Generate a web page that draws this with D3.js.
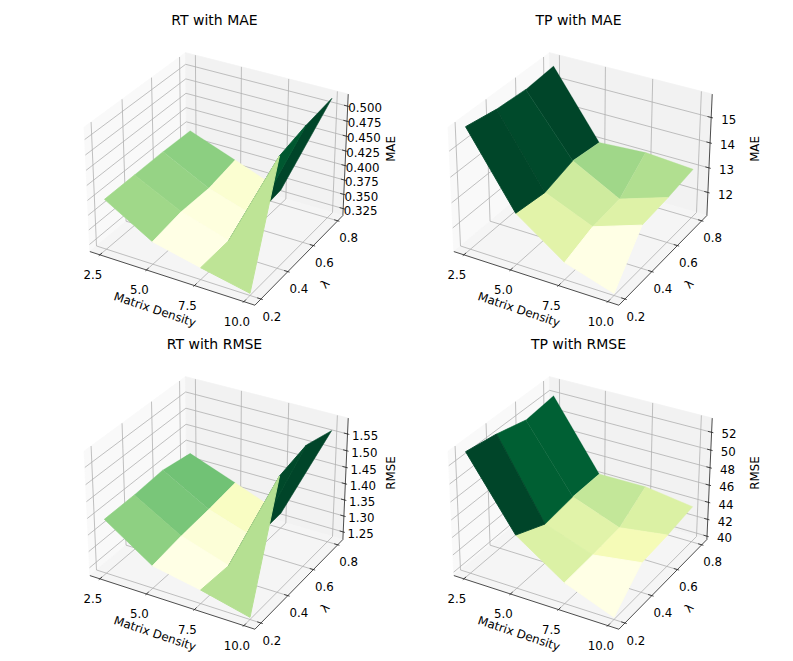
<!DOCTYPE html>
<html lang="en-us">
  <head>
      <meta charset="UTF-8">
      <title>RT and TP surfaces</title>
      <script src="https://d3js.org/d3.v7.min.js"></script>
      <style>
        html, body { margin: 0; padding: 0; background: #fff; }
        text { font-family: "DejaVu Sans", sans-serif; fill: #000; }
      </style>
  </head>
  <body>
    <div id="my_dataviz"></div>

    <script>
      // grid of the surfaces
      const density = [2.5, 5, 7.5, 10];
      const lambda = [0.2, 0.4, 0.6, 0.8];
      const densityTicks = [2.5, 5, 7.5, 10];
      const lambdaTicks = [0.2, 0.4, 0.6, 0.8];

      // z values, one row per density, one column per lambda
      const rtMae = [
        [0.3980, 0.3983, 0.3989, 0.3973],
        [0.3512, 0.3593, 0.3581, 0.3677],
        [0.3330, 0.3344, 0.3327, 0.3378],
        [0.3164, 0.4985, 0.5098, 0.5162]
      ];
      const tpMae = [
        [15.84, 15.63, 15.55, 15.65],
        [13.07, 12.91, 13.23, 13.06],
        [11.73, 12.11, 12.23, 13.17],
        [11.13, 12.76, 12.86, 13.03]
      ];
      const rtRmse = [
        [1.3907, 1.3914, 1.3978, 1.3815],
        [1.2949, 1.3083, 1.3165, 1.3286],
        [1.2674, 1.2616, 1.2690, 1.2730],
        [1.2325, 1.5699, 1.5902, 1.5658]
      ];
      const tpRmse = [
        [53.28, 52.70, 51.81, 52.19],
        [45.67, 44.09, 44.50, 44.50],
        [42.00, 42.18, 42.47, 44.53],
        [39.85, 43.00, 43.26, 43.75]
      ];

      const rtMaeTicks = [0.325, 0.35, 0.375, 0.4, 0.425, 0.45, 0.475, 0.5];
      const tpMaeTicks = [12, 13, 14, 15];
      const rtRmseTicks = [1.25, 1.3, 1.35, 1.4, 1.45, 1.5, 1.55];
      const tpRmseTicks = [40, 42, 44, 46, 48, 50, 52];

      const panels = [
        { title: "RT with MAE", zLabel: "MAE", z: rtMae, zLim: [0.3127, 0.5198], zTicks: rtMaeTicks, fmt: ".3f", col: 0, row: 0 },
        { title: "TP with MAE", zLabel: "MAE", z: tpMae, zLim: [11.044, 15.904], zTicks: tpMaeTicks, fmt: "d", col: 1, row: 0 },
        { title: "RT with RMSE", zLabel: "RMSE", z: rtRmse, zLim: [1.2259, 1.5967], zTicks: rtRmseTicks, fmt: ".2f", col: 0, row: 1 },
        { title: "TP with RMSE", zLabel: "RMSE", z: tpRmse, zLim: [39.6, 53.57], zTicks: tpRmseTicks, fmt: "d", col: 1, row: 1 }
      ];

      // box of the 3d axes (same 4:4:3 aspect as mplot3d)
      const boxX = 1.1429, boxY = 1.1429, boxZ = 0.8571;
      const dist = 10;
      // x and y limits carry the 5% margin plus the 1/48 of the 3d axes
      const xLim = [2.5 - 0.0729 * 7.5, 10 + 0.0729 * 7.5];
      const yLim = [0.2 - 0.0729 * 0.6, 0.8 + 0.0729 * 0.6];

      const xBox = d3.scaleLinear().domain(xLim).range([-boxX / 2, boxX / 2]);
      const yBox = d3.scaleLinear().domain(yLim).range([-boxY / 2, boxY / 2]);

      // screen scales for the projected coordinates
      const px = d3.scaleLinear().domain([-1, 1]).range([218.6 - 1655, 218.6 + 1655]);
      const py = d3.scaleLinear().domain([-1, 1]).range([173.1 + 1655, 173.1 - 1655]);

      // elev 30, azim -60, perspective from distance 10
      function project(dx, dy, dz) {
        const xc = 0.866 * dx + 0.5 * dy;
        const yc = -0.25 * dx + 0.433 * dy + 0.866 * dz;
        const w = 0.433 * dx - 0.75 * dy + 0.5 * dz;
        return { x: px(xc / (dist - w)), y: py(yc / (dist - w)), w: w };
      }

      // colors are mapped the way matplotlib does YlGn, piecewise between the 9 stops
      const ylGn = d3.schemeYlGn[9];

      const svg = d3.select("#my_dataviz")
        .append("svg")
        .attr("width", 793)
        .attr("height", 661);

      const line = d3.line().x(d => d.x).y(d => d.y);

      panels.forEach(function (p) {
        const g = svg.append("g")
          .attr("transform", `translate(${p.col * 364}, ${p.row * 324})`);

        const zBox = d3.scaleLinear().domain(p.zLim).range([-boxZ / 2, boxZ / 2]);

        const x0 = -boxX / 2, x1 = boxX / 2, y0 = -boxY / 2, y1 = boxY / 2, z0 = -boxZ / 2, z1 = boxZ / 2;

        // panes
        const panes = [
          { pts: [[x0, y0, z0], [x0, y1, z0], [x0, y1, z1], [x0, y0, z1]], fill: "#f9f9f9" },
          { pts: [[x0, y1, z0], [x1, y1, z0], [x1, y1, z1], [x0, y1, z1]], fill: "#f2f2f2" },
          { pts: [[x0, y0, z0], [x1, y0, z0], [x1, y1, z0], [x0, y1, z0]], fill: "#f5f5f5" }
        ];
        g.selectAll(".pane")
          .data(panes)
          .join("path")
          .attr("class", "pane")
          .attr("d", d => line(d.pts.map(c => project(c[0], c[1], c[2]))) + "Z")
          .attr("fill", d => d.fill)
          .attr("stroke", d => d.fill)
          .attr("stroke-width", 0.8);

        // grid lines on the panes
        const gridLines = [];
        densityTicks.forEach(v => {
          const b = xBox(v);
          gridLines.push([[b, y0, z0], [b, y1, z0], [b, y1, z1]]);
        });
        lambdaTicks.forEach(v => {
          const b = yBox(v);
          gridLines.push([[x1, b, z0], [x0, b, z0], [x0, b, z1]]);
        });
        p.zTicks.forEach(v => {
          const b = zBox(v);
          gridLines.push([[x0, y0, b], [x0, y1, b], [x1, y1, b]]);
        });
        g.selectAll(".grid")
          .data(gridLines)
          .join("path")
          .attr("class", "grid")
          .attr("d", d => line(d.map(c => project(c[0], c[1], c[2]))))
          .attr("fill", "none")
          .attr("stroke", "#b0b0b0")
          .attr("stroke-width", 0.8);

        // axis lines
        const axisLines = [
          [[x0, y0, z0], [x1, y0, z0]],
          [[x1, y0, z0], [x1, y1, z0]],
          [[x1, y1, z0], [x1, y1, z1]]
        ];
        g.selectAll(".axis-line")
          .data(axisLines)
          .join("path")
          .attr("class", "axis-line")
          .attr("d", d => line(d.map(c => project(c[0], c[1], c[2]))))
          .attr("fill", "none")
          .attr("stroke", "#222")
          .attr("stroke-width", 0.8);

        // tick marks
        const tickLines = [];
        densityTicks.forEach(v => {
          const b = xBox(v);
          tickLines.push([[b, y0 - 0.012, z0], [b, y0 + 0.025, z0]]);
        });
        lambdaTicks.forEach(v => {
          const b = yBox(v);
          tickLines.push([[x1 + 0.012, b, z0], [x1 - 0.025, b, z0]]);
        });
        p.zTicks.forEach(v => {
          const b = zBox(v);
          tickLines.push([[x1 + 0.012, y1, b], [x1 - 0.025, y1, b]]);
        });
        g.selectAll(".tick-mark")
          .data(tickLines)
          .join("path")
          .attr("class", "tick-mark")
          .attr("d", d => line(d.map(c => project(c[0], c[1], c[2]))))
          .attr("fill", "none")
          .attr("stroke", "#222")
          .attr("stroke-width", 0.8);

        // faces of the surface
        const faces = [];
        d3.range(density.length - 1).forEach(i => {
          d3.range(lambda.length - 1).forEach(j => {
            const corners = [[i, j], [i + 1, j], [i + 1, j + 1], [i, j + 1]];
            const pts = corners.map(c => project(xBox(density[c[0]]), yBox(lambda[c[1]]), zBox(p.z[c[0]][c[1]])));
            faces.push({
              pts: pts,
              avg: d3.mean(corners, c => p.z[c[0]][c[1]]),
              depth: d3.mean(pts, q => q.w)
            });
          });
        });

        const avgMin = d3.min(faces, f => f.avg);
        const avgMax = d3.max(faces, f => f.avg);
        const color = d3.scaleLinear()
          .domain(d3.range(9).map(k => avgMin + k / 8 * (avgMax - avgMin)))
          .range(ylGn);

        // nearer faces get a slightly wider edge so no dark fringe shows from behind
        g.selectAll(".face")
          .data(faces.sort((a, b) => d3.ascending(a.depth, b.depth)))
          .join("path")
          .attr("class", "face")
          .attr("d", d => line(d.pts) + "Z")
          .attr("fill", d => color(d.avg))
          .attr("stroke", d => color(d.avg))
          .attr("stroke-width", (d, i) => 0.2 + i * 0.1);

        // tick labels
        g.selectAll(".x-label")
          .data(densityTicks)
          .join("text")
          .attr("class", "x-label")
          .attr("x", d => project(xBox(d), y0, z0).x - 7)
          .attr("y", d => project(xBox(d), y0, z0).y + 20.5)
          .attr("text-anchor", "middle")
          .attr("dominant-baseline", "central")
          .style("font-size", "11.8px")
          .text(d => d3.format(".1f")(d));

        g.selectAll(".y-label")
          .data(lambdaTicks)
          .join("text")
          .attr("class", "y-label")
          .attr("x", d => project(x1, yBox(d), z0).x + 11)
          .attr("y", d => project(x1, yBox(d), z0).y + 17.5)
          .attr("text-anchor", "middle")
          .attr("dominant-baseline", "central")
          .style("font-size", "11.8px")
          .text(d => d3.format(".1f")(d));

        g.selectAll(".z-label")
          .data(p.zTicks)
          .join("text")
          .attr("class", "z-label")
          .attr("x", d => project(x1, y1, zBox(d)).x + 17.5)
          .attr("y", d => project(x1, y1, zBox(d)).y + 2.2)
          .attr("text-anchor", "middle")
          .attr("dominant-baseline", "central")
          .style("font-size", "11.8px")
          .text(d => d3.format(p.fmt)(d));

        // axis titles
        g.append("text")
          .attr("transform", "translate(155, 309.5) rotate(18.5)")
          .attr("text-anchor", "middle")
          .attr("dominant-baseline", "central")
          .style("font-size", "11.8px")
          .text("Matrix Density");

        g.append("text")
          .attr("transform", "translate(325, 284) rotate(-46)")
          .attr("text-anchor", "middle")
          .attr("dominant-baseline", "central")
          .style("font-size", "11.8px")
          .text("λ");

        g.append("text")
          .attr("transform", "translate(391, 149) rotate(-90)")
          .attr("text-anchor", "middle")
          .attr("dominant-baseline", "central")
          .style("font-size", "11.8px")
          .text(p.zLabel);

        g.append("text")
          .attr("x", 214.5)
          .attr("y", 20)
          .attr("text-anchor", "middle")
          .attr("dominant-baseline", "central")
          .style("font-size", "14px")
          .text(p.title);
      });
    </script>
  </body>
</html>
